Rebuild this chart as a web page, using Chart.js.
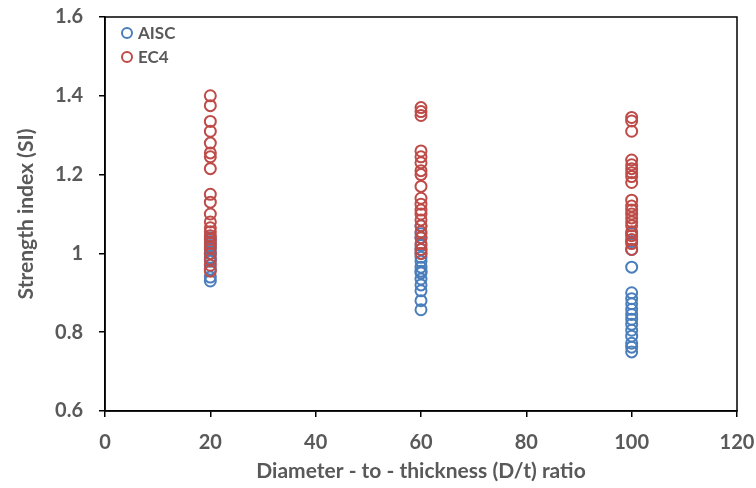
<!DOCTYPE html>
<html><head><meta charset="utf-8">
<script src="https://cdn.jsdelivr.net/npm/chart.js@4"></script>
<style>html,body{margin:0;padding:0;background:#fff}#wrap{width:756px;height:488px}</style>
</head><body><div id="wrap"><canvas id="c" width="756" height="488"></canvas></div>
<script>
const seriesNames = ['AISC', 'EC4'];
const xTickLabels = ['0', '20', '40', '60', '80', '100', '120'];
const yTickLabels = ['0.6', '0.8', '1', '1.2', '1.4', '1.6'];

const aiscX20 = [1.04, 1.03, 1.02, 1.01, 1.0, 0.99, 0.98, 0.96, 0.94, 0.93];
const aiscX60 = [1.07, 1.05, 1.04, 1.02, 1.01, 1.0, 0.99, 0.98, 0.965, 0.955, 0.95, 0.935, 0.92, 0.905, 0.88, 0.857];
const aiscX100 = [1.05, 1.03, 1.01, 0.965, 0.90, 0.885, 0.872, 0.858, 0.845, 0.833, 0.82, 0.805, 0.79, 0.772, 0.762, 0.75];

const ec4X20 = [1.40, 1.375, 1.335, 1.31, 1.28, 1.255, 1.245, 1.215, 1.15, 1.13, 1.10, 1.08, 1.065, 1.055, 1.045, 1.035, 1.025, 1.015, 1.0, 0.985, 0.97, 0.955];
const ec4X60 = [1.37, 1.36, 1.35, 1.26, 1.245, 1.23, 1.21, 1.2, 1.17, 1.14, 1.125, 1.11, 1.10, 1.085, 1.07, 1.055, 1.04, 1.025, 1.01, 1.0];
const ec4X100 = [1.345, 1.336, 1.31, 1.237, 1.225, 1.215, 1.205, 1.195, 1.18, 1.135, 1.12, 1.11, 1.10, 1.09, 1.08, 1.07, 1.055, 1.045, 1.035, 1.025, 1.01];

function pts(x, arr) { return arr.map(v => ({x: x, y: v})); }
const aiscData = [].concat(pts(20, aiscX20), pts(60, aiscX60), pts(100, aiscX100));
const ec4Data = [].concat(pts(20, ec4X20), pts(60, ec4X60), pts(100, ec4X100));

const BLUE = '#4a7ebb', RED = '#be4b48', GREY = '#595959';
const FONT = 'Lato, "Open Sans", sans-serif';

const frame = {
  id: 'frame',
  afterDatasetsDraw(chart) {
    const a = chart.chartArea, ctx = chart.ctx;
    ctx.save();
    ctx.strokeStyle = '#000'; ctx.lineWidth = 1.5;
    ctx.strokeRect(a.left, a.top, a.right - a.left, a.bottom - a.top);
    const items = [[seriesNames[0], BLUE], [seriesNames[1], RED]];
    ctx.font = 'bold 17px ' + FONT;
    ctx.textBaseline = 'middle';
    items.forEach((it, i) => {
      const cy = a.top + 16 + i * 24, cx = a.left + 22;
      ctx.beginPath(); ctx.arc(cx, cy, 5, 0, Math.PI * 2);
      ctx.strokeStyle = it[1]; ctx.lineWidth = 2; ctx.stroke();
      ctx.fillStyle = GREY; ctx.fillText(it[0], cx + 11, cy + 1);
    });
    ctx.restore();
  }
};

new Chart(document.getElementById('c'), {
  type: 'scatter',
  data: {
    datasets: [
      {label: seriesNames[0], data: aiscData, order: 1, borderColor: BLUE, backgroundColor: 'rgba(0,0,0,0)', pointRadius: 5.5, pointBorderWidth: 2, pointHoverRadius: 5.5},
      {label: seriesNames[1], data: ec4Data, order: 0, borderColor: RED, backgroundColor: 'rgba(0,0,0,0)', pointRadius: 5.5, pointBorderWidth: 2, pointHoverRadius: 5.5}
    ]
  },
  options: {
    responsive: false, animation: false,
    layout: {padding: {top: 17, right: 19, left: 0, bottom: 0}},
    plugins: {legend: {display: false}, tooltip: {enabled: false}},
    scales: {
      x: {
        type: 'linear', min: 0, max: 120,
        afterBuildTicks(s) { s.ticks = xTickLabels.map(t => ({value: +t})); },
        afterFit(s) { s.height = 77; s.paddingLeft = 0; s.paddingRight = 0; },
        grid: {drawOnChartArea: false, color: '#000', tickLength: 6, lineWidth: 1.5},
        border: {color: '#000', width: 1.5},
        ticks: {color: GREY, font: {family: FONT, size: 20, weight: 'bold'}, padding: 14, callback: (v, i) => xTickLabels[i], maxRotation: 0},
        title: {display: true, text: 'Diameter - to - thickness (D/t) ratio', color: GREY, font: {family: FONT, size: 21, weight: 'bold'}, padding: {top: 0}}
      },
      y: {
        type: 'linear', min: 0.6, max: 1.6,
        afterBuildTicks(s) { s.ticks = yTickLabels.map(t => ({value: +t})); },
        afterFit(s) { s.width = 105; s.paddingTop = 0; s.paddingBottom = 0; },
        grid: {drawOnChartArea: false, color: '#000', tickLength: 6, lineWidth: 1.5},
        border: {color: '#000', width: 1.5},
        ticks: {color: GREY, font: {family: FONT, size: 20, weight: 'bold'}, padding: 16, callback: (v, i) => yTickLabels[i]},
        title: {display: true, text: 'Strength index (SI)', color: GREY, font: {family: FONT, size: 21, weight: 'bold'}, padding: {top: 14, bottom: 0}}
      }
    }
  },
  plugins: [frame]
});
</script></body></html>
